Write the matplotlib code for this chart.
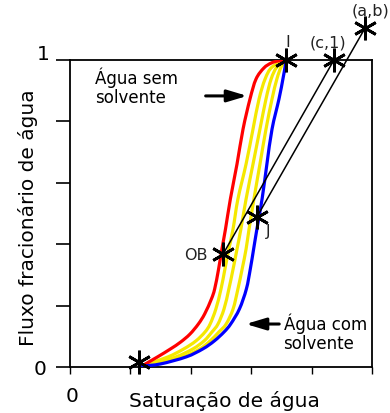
import matplotlib.pyplot as plt
from matplotlib.path import Path
from matplotlib.patches import PathPatch

# fractional flow levels shared by the yellow/blue curves
fw_levels = [0.003, 0.010, 0.033, 0.059, 0.085, 0.114, 0.140, 0.189, 0.254, 0.319,
             0.384, 0.450, 0.547, 0.661, 0.775, 0.873, 0.938, 0.977, 1.000]

# water without solvent (red)
sw_red = [0.240, 0.250, 0.290, 0.333, 0.366, 0.397, 0.425, 0.446, 0.468, 0.479,
          0.492, 0.503, 0.515, 0.531, 0.553, 0.573, 0.596, 0.616, 0.642, 0.666, 0.689, 0.715]
fw_red = [0.003, 0.010, 0.033, 0.059, 0.081, 0.107, 0.140, 0.173, 0.221, 0.254,
          0.319, 0.384, 0.450, 0.547, 0.661, 0.775, 0.873, 0.938, 0.974, 0.990, 0.997, 1.000]

# intermediate solvent concentrations (yellow)
sw_y1 = [0.240, 0.258, 0.325, 0.377, 0.417, 0.447, 0.464, 0.483, 0.500, 0.513,
         0.526, 0.540, 0.556, 0.583, 0.606, 0.626, 0.646, 0.669, 0.715]
sw_y2 = [0.240, 0.272, 0.351, 0.407, 0.444, 0.470, 0.490, 0.510, 0.526, 0.540,
         0.553, 0.566, 0.583, 0.606, 0.629, 0.649, 0.666, 0.685, 0.715]
sw_y3 = [0.240, 0.288, 0.374, 0.430, 0.464, 0.493, 0.517, 0.540, 0.556, 0.570,
         0.583, 0.593, 0.609, 0.629, 0.649, 0.669, 0.685, 0.699, 0.715]

# water with solvent (blue)
sw_blue = [0.240, 0.300, 0.385, 0.440, 0.478, 0.510, 0.532, 0.561, 0.584, 0.597,
           0.608, 0.619, 0.636, 0.652, 0.669, 0.692, 0.705, 0.712, 0.715]

# named points
pts = {
    "start": (0.228, 0.016),
    "I": (0.715, 1.0),
    "(c,1)": (0.874, 1.0),
    "(a,b)": (0.977, 1.104),
    "OB": (0.507, 0.368),
    "J": (0.619, 0.489),
}


def smooth_path(xs, ys):
    # Catmull-Rom through the points, drawn as cubic Bezier segments
    p = list(zip(xs, ys))
    verts = [p[0]]
    codes = [Path.MOVETO]
    n = len(p)
    for i in range(n - 1):
        p0 = p[i - 1] if i > 0 else p[i]
        p1, p2 = p[i], p[i + 1]
        p3 = p[i + 2] if i + 2 < n else p[i + 1]
        c1 = (p1[0] + (p2[0] - p0[0]) / 6, p1[1] + (p2[1] - p0[1]) / 6)
        c2 = (p2[0] - (p3[0] - p1[0]) / 6, p2[1] - (p3[1] - p1[1]) / 6)
        verts += [c1, c2, p2]
        codes += [Path.CURVE4] * 3
    return Path(verts, codes)


fig = plt.figure(figsize=(3.9, 4.14), dpi=100)
ax = fig.add_axes([70 / 390, 1 - 368 / 414, 302 / 390, 307 / 414])
ax.set_xlim(0, 1)
ax.set_ylim(0, 1)

lw = 2.3
curves = [(sw_red, fw_red, "#ff0000", 3), (sw_y1, fw_levels, "#f5e800", 2),
          (sw_y2, fw_levels, "#f5e800", 2), (sw_y3, fw_levels, "#f5e800", 2),
          (sw_blue, fw_levels, "#0000ff", 3)]
for xs, ys, c, z in curves:
    ax.add_patch(PathPatch(smooth_path(xs, ys), fill=False, edgecolor=c, lw=lw,
                           capstyle="round", zorder=z))

# tangent lines
for a, b in (("OB", "(c,1)"), ("J", "(a,b)")):
    ax.plot([pts[a][0], pts[b][0]], [pts[a][1], pts[b][1]], color="black",
            lw=1.1, clip_on=False, zorder=4)

for name, (x, y) in pts.items():
    ax.plot(x, y, marker=(6, 2, 0), ms=17, mew=2.0, color="black",
            clip_on=False, zorder=5)

lab = dict(fontsize=11.5, color="#222222")
ax.text(0.720, 1.035, "I", ha="center", va="bottom", **lab)
ax.text(0.855, 1.035, "(c,1)", ha="center", va="bottom", **lab)
ax.text(0.995, 1.14, "(a,b)", ha="center", va="bottom", clip_on=False, **lab)
ax.text(0.455, 0.365, "OB", ha="right", va="center", **lab)
ax.text(0.648, 0.445, "J", ha="left", va="center", **lab)

ax.text(0.083, 0.862, "Água sem\nsolvente", ha="left", va="baseline",
        fontsize=12, linespacing=1.1)
ax.text(0.707, 0.062, "Água com\nsolvente", ha="left", va="baseline",
        fontsize=12, linespacing=1.1)

arrow = dict(arrowstyle="-|>,head_length=1.0,head_width=0.3", color="black",
             lw=2.2, mutation_scale=12)
ax.annotate("", xy=(0.596, 0.883), xytext=(0.440, 0.883), arrowprops=arrow)
ax.annotate("", xy=(0.573, 0.140), xytext=(0.702, 0.140), arrowprops=arrow)

for s in ax.spines.values():
    s.set_linewidth(1.3)
ax.set_xticks([0, 0.2, 0.4, 0.6, 0.8, 1.0])
ax.set_yticks([0, 0.2, 0.4, 0.6, 0.8, 1.0])
ax.tick_params(axis="y", direction="out", length=10, width=1.2, labelleft=False)
ax.tick_params(axis="x", direction="out", length=5, width=1.0, labelbottom=False)

fig.text(40 / 390, 1 - 375 / 414, "0", ha="center", va="baseline", fontsize=14.5)
fig.text(43 / 390, 1 - 60 / 414, "1", ha="center", va="baseline", fontsize=14.5)
fig.text(72 / 390, 1 - 402 / 414, "0", ha="center", va="baseline", fontsize=14.5)
fig.text(224 / 390, 1 - 407 / 414, "Saturação de água", ha="center", va="baseline",
         fontsize=14.5)
fig.text(28 / 390, 1 - 218 / 414, "Fluxo fracionário de água", ha="center",
         va="center", rotation=90, fontsize=14.5)

fig.savefig("out.png", dpi=100)
